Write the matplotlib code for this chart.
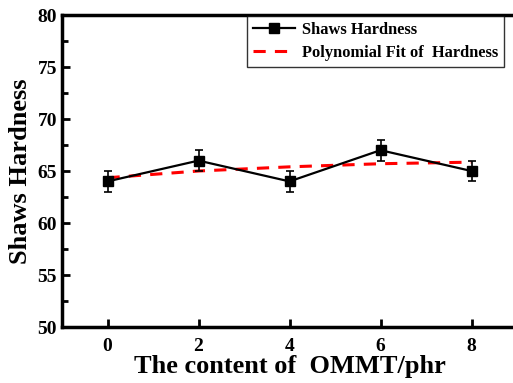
import matplotlib
matplotlib.use("Agg")
import matplotlib.pyplot as plt
from matplotlib.ticker import MultipleLocator
from matplotlib.lines import Line2D

content = [0, 2, 4, 6, 8]
hardness = [64, 66, 64, 67, 65]
hardness_err = [1, 1, 1, 1, 1]
fit_x = [0, 2, 4, 6, 8]
fit_y = [64.35, 65.0, 65.4, 65.7, 65.85]

plt.rcParams['font.family'] = ['Liberation Serif', 'DejaVu Serif']
plt.rcParams['font.weight'] = 'bold'

fig = plt.figure(figsize=(5.13, 3.83), dpi=100)
ax = fig.add_axes([62/513, 1-327/383, (517-62)/513, (327-15)/383])

ax.errorbar(content, hardness, yerr=hardness_err, color='black', lw=1.6,
            marker='s', markersize=7, capsize=3, elinewidth=1.2, capthick=1.2,
            zorder=3)
fl, = ax.plot(fit_x, fit_y, color='red', lw=2.2, dashes=(4, 3),
              label='Polynomial Fit of  Hardness', zorder=2)
proxy = Line2D([], [], color='black', lw=1.6, marker='s', markersize=7,
               label='Shaws Hardness')

ax.set_xlim(-1, 9)
ax.set_ylim(50, 80)
ax.set_xticks(content)
ax.yaxis.set_major_locator(MultipleLocator(5))
ax.yaxis.set_minor_locator(MultipleLocator(2.5))
ax.tick_params(axis='both', which='major', direction='in', length=6, width=2,
               labelsize=14)
ax.tick_params(axis='y', which='minor', direction='in', length=4, width=2)
ax.tick_params(axis='x', pad=8)
for lab in ax.get_xticklabels() + ax.get_yticklabels():
    lab.set_fontweight('bold')
for sp in ax.spines.values():
    sp.set_linewidth(2.5)
ax.spines['right'].set_visible(False)

ax.set_xlabel('The content of  OMMT/phr', fontsize=19, fontweight='bold', labelpad=0)
ax.set_ylabel('Shaws Hardness', fontsize=19, fontweight='bold', labelpad=4)

leg = ax.legend(handles=[proxy, fl], loc='upper left', bbox_to_anchor=(247/513, 1-16/383),
                bbox_transform=fig.transFigure, frameon=True, fancybox=False,
                edgecolor='black', prop={'size': 11.8, 'weight': 'bold'},
                handlelength=2.6, handletextpad=0.4, borderpad=0.35,
                labelspacing=0.45, borderaxespad=0)
leg.get_frame().set_linewidth(1.0)

fig.savefig('out.png', dpi=100)
